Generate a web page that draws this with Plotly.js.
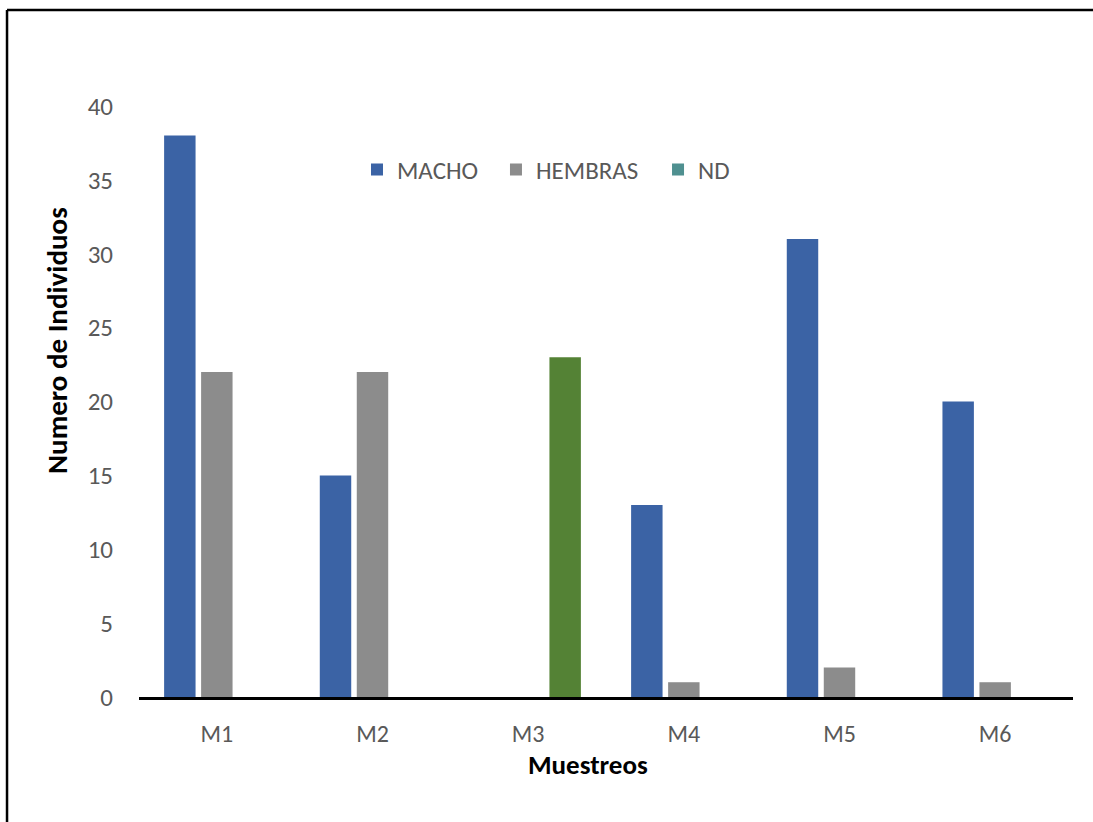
<!DOCTYPE html>
<html>
<head>
<meta charset="utf-8">
<script src="https://cdn.plot.ly/plotly-3.0.1.min.js"></script>
<style>
  html, body { margin: 0; padding: 0; background: #ffffff; }
  #chart { width: 1093px; height: 822px; }
</style>
</head>
<body>
<div id="chart"></div>
<script>
// ---- data ----
const categories = ['M1', 'M2', 'M3', 'M4', 'M5', 'M6'];
const seriesNames = ['MACHO', 'HEMBRAS', 'ND'];
const macho   = [38, 15, 0, 13, 31, 20];
const hembras = [22, 22, 0, 1, 2, 1];
const nd      = [0, 0, 23, 0, 0, 0];
const yTicks  = [0, 5, 10, 15, 20, 25, 30, 35, 40];
const xTitle  = 'Muestreos';
const yTitle  = 'Numero de Individuos';

// ---- styles ----
const FONT = 'Carlito, Lato, "Open Sans", sans-serif';
const TICK_COLOR = '#595959';
const C_MACHO = '#3b63a5';
const C_HEMB = '#8c8c8c';
const C_ND_LEG = '#4f9090';
const C_ND_BAR = '#548235';
// legend swatch follows first point colour; visible ND bar is green
const ndColors = nd.map((v, i) => i === 0 ? C_ND_LEG : C_ND_BAR);

const traces = [
  { type: 'bar', name: seriesNames[0], x: categories, y: macho, legend: 'legend',
    marker: { color: C_MACHO, line: { width: 0 } } },
  { type: 'bar', name: seriesNames[1], x: categories, y: hembras, legend: 'legend2',
    marker: { color: C_HEMB, line: { width: 0 } } },
  { type: 'bar', name: seriesNames[2], x: categories, y: nd, legend: 'legend3',
    marker: { color: ndColors, line: { width: 0 } } }
];

function legendAt(x) {
  return {
    orientation: 'h',
    x: x, xanchor: 'left',
    y: 0.892, yanchor: 'middle',
    font: { family: FONT, size: 25, color: TICK_COLOR },
    bgcolor: 'rgba(0,0,0,0)',
    itemclick: false
  };
}

const layout = {
  width: 1093, height: 822,
  margin: { l: 139, r: 20, t: 106, b: 125 },
  paper_bgcolor: '#ffffff', plot_bgcolor: '#ffffff',
  font: { family: FONT, size: 24, color: TICK_COLOR },
  barmode: 'group',
  bargap: 0.287,
  bargroupgap: 0.15,
  showlegend: true,
  legend: legendAt(0.2334),
  legend2: legendAt(0.3822),
  legend3: legendAt(0.5557),
  xaxis: {
    type: 'category',
    showgrid: false, zeroline: false,
    showline: true, linecolor: '#000000', linewidth: 3,
    ticks: '', ticklabelstandoff: 13,
    tickfont: { family: FONT, size: 24, color: TICK_COLOR },
    fixedrange: true
  },
  yaxis: {
    range: [0, 40],
    tickvals: yTicks,
    ticktext: yTicks.map(String),
    showgrid: false, zeroline: false, showline: false,
    ticks: '', ticklabelstandoff: 25,
    tickfont: { family: FONT, size: 25, color: TICK_COLOR },
    fixedrange: true
  },
  annotations: [
    { text: '<b>' + xTitle + '</b>', xref: 'paper', yref: 'paper',
      x: 0.4807, y: -0.1135, xanchor: 'center', yanchor: 'middle',
      showarrow: false, font: { family: FONT, size: 27, color: '#000000' } },
    { text: '<b>' + yTitle + '</b>', xref: 'paper', yref: 'paper',
      x: -0.0878, y: 0.604, xanchor: 'center', yanchor: 'middle', textangle: -90,
      showarrow: false, font: { family: FONT, size: 29, color: '#000000' } }
  ],
  shapes: [
    { type: 'line', xref: 'paper', yref: 'paper',
      x0: -0.1413, x1: -0.1413, y0: -0.22, y1: 1.1624,
      line: { color: '#000000', width: 2.5 } },
    { type: 'line', xref: 'paper', yref: 'paper',
      x0: -0.1413, x1: 1.03, y0: 1.1624, y1: 1.1624,
      line: { color: '#000000', width: 2.5 } }
  ]
};

Plotly.newPlot('chart', traces, layout, { displayModeBar: false, staticPlot: true });
</script>
</body>
</html>
